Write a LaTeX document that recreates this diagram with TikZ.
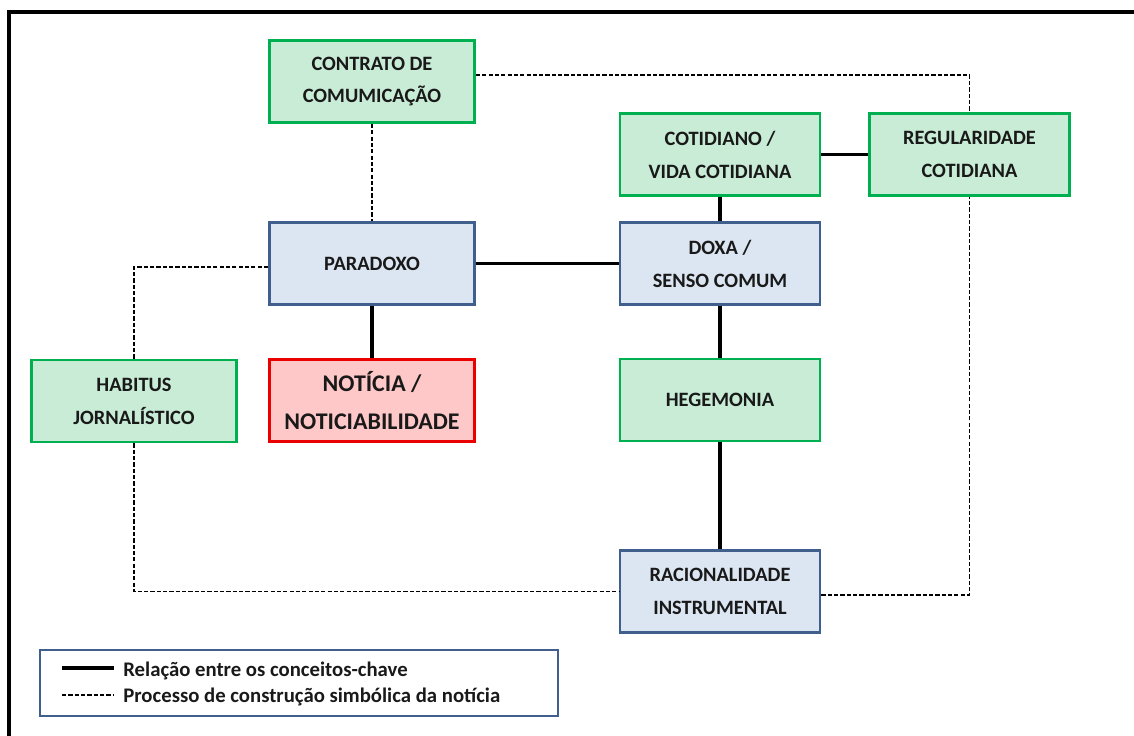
\documentclass[tikz,border=0pt]{standalone}
\usepackage{fontspec}
\setmainfont{Carlito}
\definecolor{grline}{RGB}{0,176,80}
\definecolor{grfill}{RGB}{200,236,214}
\definecolor{blline}{RGB}{65,95,140}
\definecolor{blfill}{RGB}{220,230,242}
\definecolor{rdline}{RGB}{235,0,0}
\definecolor{rdfill}{RGB}{255,200,200}

\begin{document}
\begin{tikzpicture}[
    box/.style={draw, line width=1.6pt, minimum width=4.1cm, minimum height=1.64cm,
        inner sep=0pt, align=center, text=black!90,
        font=\bfseries\fontsize{11.6}{18.7}\selectfont},
    greenbox/.style={box, draw=grline, fill=grfill},
    bluebox/.style={box, draw=blline, fill=blfill},
    redbox/.style={box, draw=rdline, fill=rdfill, font=\bfseries\fontsize{13.6}{21.5}\selectfont},
    link/.style={line width=2.1pt},
    proc/.style={line width=0.9pt, dash pattern=on 2.4pt off 1.2pt},
    legtext/.style={anchor=base west, inner sep=0pt, text=black!90,
        font=\bfseries\fontsize{11.8}{13}\selectfont}]

    \useasboundingbox (0,0) rectangle (22.68,14.72);
    \draw[line width=1.9pt] (0.18,-1) -- (0.18,14.48) -- (23.5,14.48);

    \node[greenbox] (contrato) at (7.44,13.09) {CONTRATO DE\\COMUMICAÇÃO};
    \node[bluebox] (paradoxo) at (7.44,9.45) {PARADOXO};
    \node[greenbox, minimum width=4cm] (cotidiano) at (14.40,11.63) {COTIDIANO /\\VIDA COTIDIANA};
    \node[greenbox, minimum width=4cm] (regular) at (19.39,11.63) {REGULARIDADE\\COTIDIANA};
    \node[bluebox, minimum width=4cm] (doxa) at (14.40,9.45) {DOXA /\\SENSO COMUM};
    \node[greenbox] (habitus) at (2.68,6.70) {HABITUS\\JORNALÍSTICO};
    \node[redbox] (noticia) at (7.44,6.71) {NOTÍCIA /\\NOTICIABILIDADE};
    \node[greenbox, minimum width=4cm] (hegemonia) at (14.40,6.72) {HEGEMONIA};
    \node[bluebox, minimum width=4cm] (racional) at (14.40,2.89) {RACIONALIDADE\\INSTRUMENTAL};

    \draw[link] (paradoxo) -- (doxa);
    \draw[link] (paradoxo) -- (noticia);
    \draw[link] (cotidiano) -- (regular);
    \draw[link] (cotidiano) -- (doxa);
    \draw[link] (doxa) -- (hegemonia);
    \draw[link] (hegemonia) -- (racional);

    \draw[proc] ([yshift=0.13cm]contrato.east) -| (regular.north);
    \draw[proc] (contrato) -- (paradoxo);
    \draw[proc] ([yshift=-0.07cm]paradoxo.west) -| (habitus.north);
    \draw[proc] (habitus.south) |- (racional.west);
    \draw[proc] ([yshift=-0.07cm]racional.east) -| (regular.south);

    \node[draw=blline, line width=1.6pt, minimum width=10.36cm, minimum height=1.32cm,
        inner sep=0pt] (legenda) at (5.98,1.06) {};
    \coordinate (s1) at (1.24,1.36);
    \coordinate (s2) at (2.28,1.36);
    \coordinate (d1) at (1.24,0.82);
    \coordinate (d2) at (2.28,0.82);
    \draw[link] (s1) -- (s2);
    \draw[proc] (d1) -- (d2);
    \node[legtext] (rel) at (2.46,1.18) {Relação entre os conceitos-chave};
    \node[legtext] (proc) at (2.46,0.66) {Processo de construção simbólica da notícia};
\end{tikzpicture}
\end{document}
